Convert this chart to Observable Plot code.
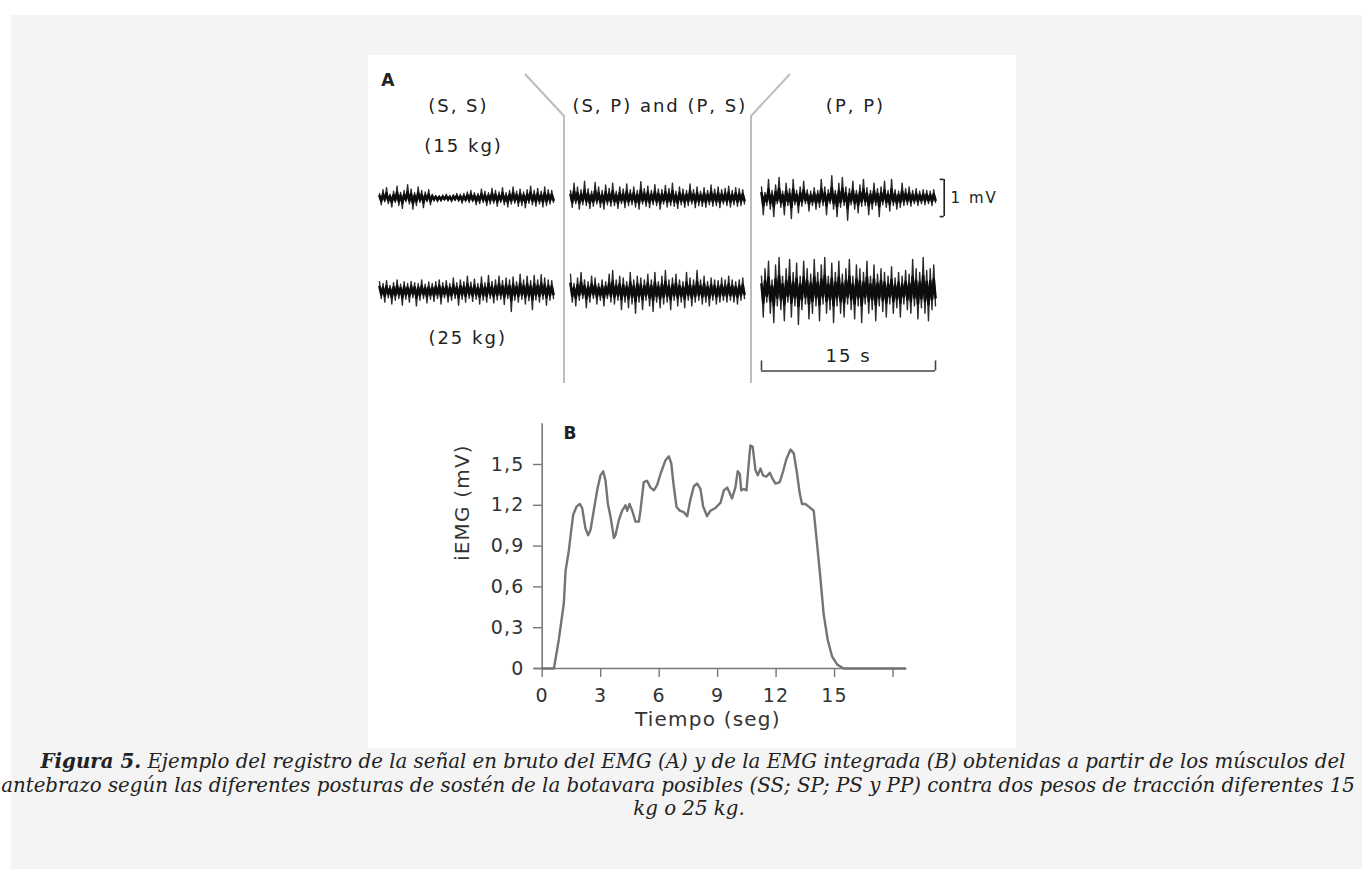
<!DOCTYPE html>
<html><head><meta charset="utf-8">
<script src="https://cdn.jsdelivr.net/npm/d3@7"></script>
<script src="https://cdn.jsdelivr.net/npm/@observablehq/plot@0.6"></script>
<style>
html,body{margin:0;padding:0;background:#fff;overflow:hidden;width:1362px;height:869px;position:relative;}
#bg{position:absolute;left:11px;top:15px;width:1351px;height:854px;background:#f4f4f4;}
#panel{position:absolute;left:368px;top:55px;width:648px;height:693px;background:#fff;}
#a,#b,#overlay{position:absolute;}
#a{left:0;top:0;}
#b{left:72px;top:355px;}
#overlay{left:0;top:0;}
#caption{position:absolute;left:0;top:750px;width:1386px;text-align:center;white-space:nowrap;
  font-family:"DejaVu Serif",serif;font-style:italic;font-size:19.8px;line-height:23.5px;color:#222;}
#caption div{position:relative;}
#cap2{left:-15px;}
#cap3{left:-4px;}
</style></head>
<body>
<div id="bg"></div>
<div id="panel"><svg id="overlay" width="648" height="400"></svg><div id="a"></div><div id="b"></div></div>
<div id="caption"><div><b>Figura 5.</b> Ejemplo del registro de la señal en bruto del EMG (A) y de la EMG integrada (B) obtenidas a partir de los músculos del</div><div id="cap2">antebrazo según las diferentes posturas de sostén de la botavara posibles (SS; SP; PS y PP) contra dos pesos de tracción diferentes 15</div><div id="cap3">kg o 25 kg.</div></div>
<script>
// ---------- Panel A: raw EMG (mV) ----------
const conditions = ["SS", "SPPS", "PP"];
const columnTitles = ["(S, S)", "(S, P) and (P, S)", "(P, P)"];
const weights = ["15 kg", "25 kg"];
const weightLabels = ["(15 kg)", "(25 kg)"];
const traceDuration = 15; // seconds

const emgSS15 = [0.12,-0.18,0.22,-0.1,0.28,-0.15,0.1,-0.24,0.18,-0.12,0.32,-0.2,0.15,-0.28,0.2,-0.1,0.36,-0.16,0.24,-0.3,0.14,-0.2,0.3,-0.12,0.2,-0.26,0.16,-0.1,0.22,-0.18,0.1,-0.08,0.07,-0.1,0.06,-0.09,0.08,-0.06,0.1,-0.08,0.07,-0.1,0.09,-0.07,0.12,-0.09,0.1,-0.14,0.12,-0.1,0.16,-0.12,0.2,-0.1,0.14,-0.18,0.12,-0.15,0.24,-0.12,0.18,-0.2,0.14,-0.16,0.26,-0.14,0.2,-0.22,0.16,-0.12,0.28,-0.18,0.14,-0.24,0.2,-0.16,0.3,-0.14,0.18,-0.22,0.24,-0.2,0.16,-0.26,0.22,-0.14,0.32,-0.18,0.2,-0.22,0.26,-0.16,0.18,-0.24,0.3,-0.2,0.22,-0.16,0.2,-0.12];
const emgSP15 = [0.2,-0.25,0.4,-0.15,0.3,-0.3,0.22,-0.18,0.45,-0.2,0.25,-0.28,0.18,-0.22,0.42,-0.16,0.3,-0.25,0.2,-0.3,0.35,-0.18,0.26,-0.22,0.4,-0.2,0.18,-0.28,0.3,-0.15,0.24,-0.26,0.38,-0.2,0.22,-0.18,0.3,-0.24,0.2,-0.3,0.44,-0.16,0.25,-0.22,0.32,-0.26,0.2,-0.18,0.36,-0.2,0.24,-0.3,0.22,-0.16,0.34,-0.24,0.26,-0.2,0.4,-0.22,0.18,-0.28,0.3,-0.18,0.24,-0.25,0.2,-0.2,0.38,-0.16,0.22,-0.26,0.3,-0.2,0.18,-0.22,0.28,-0.25,0.2,-0.18,0.35,-0.22,0.24,-0.2,0.3,-0.26,0.22,-0.16,0.26,-0.2,0.32,-0.24,0.2,-0.18,0.28,-0.22,0.25,-0.2,0.22,-0.16];
const emgPP15 = [0.3,-0.45,0.15,-0.2,0.5,-0.3,0.2,-0.5,0.35,-0.15,0.55,-0.25,0.18,-0.45,0.4,-0.2,0.25,-0.55,0.5,-0.18,0.2,-0.4,0.3,-0.22,0.45,-0.15,0.22,-0.35,0.18,-0.2,0.28,-0.3,0.2,-0.25,0.5,-0.2,0.3,-0.45,0.22,-0.15,0.6,-0.3,0.2,-0.5,0.4,-0.25,0.55,-0.2,0.3,-0.6,0.25,-0.18,0.45,-0.3,0.2,-0.4,0.35,-0.22,0.5,-0.2,0.28,-0.45,0.2,-0.3,0.4,-0.2,0.25,-0.5,0.3,-0.18,0.45,-0.25,0.2,-0.35,0.5,-0.2,0.22,-0.3,0.18,-0.25,0.4,-0.2,0.25,-0.18,0.3,-0.22,0.2,-0.15,0.25,-0.2,0.18,-0.15,0.22,-0.18,0.2,-0.15,0.18,-0.2,0.22,-0.12];
const emgSS25 = [0.25,-0.2,0.2,-0.3,0.28,-0.18,0.15,-0.35,0.22,-0.25,0.3,-0.2,0.18,-0.38,0.25,-0.22,0.2,-0.3,0.26,-0.18,0.22,-0.4,0.2,-0.25,0.3,-0.2,0.18,-0.32,0.24,-0.22,0.2,-0.28,0.25,-0.2,0.3,-0.35,0.22,-0.18,0.28,-0.3,0.2,-0.25,0.35,-0.2,0.22,-0.38,0.3,-0.22,0.25,-0.3,0.4,-0.2,0.24,-0.28,0.32,-0.22,0.2,-0.35,0.38,-0.25,0.22,-0.3,0.42,-0.2,0.26,-0.32,0.3,-0.24,0.4,-0.22,0.28,-0.36,0.35,-0.2,0.3,-0.55,0.38,-0.25,0.25,-0.3,0.45,-0.22,0.3,-0.35,0.4,-0.26,0.28,-0.5,0.42,-0.24,0.3,-0.3,0.44,-0.22,0.35,-0.38,0.3,-0.25,0.28,-0.2];
const emgSP25 = [0.45,-0.3,0.2,-0.4,0.35,-0.25,0.5,-0.2,0.3,-0.45,0.25,-0.3,0.4,-0.2,0.35,-0.35,0.2,-0.25,0.3,-0.4,0.25,-0.2,0.45,-0.3,0.55,-0.35,0.3,-0.25,0.4,-0.5,0.35,-0.3,0.25,-0.45,0.5,-0.35,0.3,-0.6,0.4,-0.3,0.35,-0.5,0.3,-0.25,0.45,-0.4,0.3,-0.55,0.5,-0.3,0.25,-0.45,0.4,-0.35,0.55,-0.3,0.3,-0.5,0.35,-0.25,0.45,-0.4,0.3,-0.3,0.25,-0.45,0.5,-0.25,0.35,-0.4,0.3,-0.3,0.55,-0.25,0.3,-0.35,0.4,-0.3,0.25,-0.4,0.35,-0.25,0.3,-0.35,0.28,-0.3,0.35,-0.25,0.3,-0.3,0.4,-0.25,0.3,-0.3,0.25,-0.35,0.3,-0.25,0.35,-0.2];
const emgPP25 = [0.4,-0.7,0.6,-0.3,0.8,-0.6,0.3,-0.85,0.7,-0.4,0.9,-0.5,0.4,-0.8,0.6,-0.3,0.85,-0.7,0.5,-0.4,0.75,-0.9,0.4,-0.5,0.8,-0.35,0.6,-0.75,0.45,-0.6,0.85,-0.4,0.5,-0.8,0.7,-0.35,0.9,-0.6,0.4,-0.5,0.75,-0.85,0.5,-0.4,0.8,-0.6,0.45,-0.7,0.6,-0.35,0.85,-0.5,0.4,-0.75,0.7,-0.4,0.6,-0.85,0.5,-0.35,0.8,-0.6,0.4,-0.5,0.7,-0.8,0.45,-0.4,0.6,-0.55,0.5,-0.7,0.4,-0.35,0.65,-0.6,0.35,-0.45,0.5,-0.7,0.4,-0.35,0.55,-0.5,0.45,-0.6,0.85,-0.4,0.6,-0.75,0.5,-0.45,0.9,-0.6,0.55,-0.8,0.6,-0.5,0.7,-0.4];

// ---------- Panel B: integrated EMG ----------
const iemgTime  = [0,0.6,0.85,1.11,1.2,1.37,1.45,1.59,1.76,1.93,2.05,2.22,2.36,2.48,2.62,2.82,2.99,3.13,3.25,3.37,3.5,3.68,3.76,3.93,4.1,4.27,4.36,4.48,4.62,4.79,4.96,5.04,5.21,5.38,5.56,5.73,5.9,6.07,6.32,6.5,6.62,6.75,6.89,7.06,7.26,7.44,7.6,7.78,7.95,8.12,8.26,8.46,8.63,8.89,9.15,9.32,9.49,9.62,9.74,9.91,10.03,10.14,10.21,10.34,10.48,10.6,10.68,10.8,10.94,11.06,11.2,11.33,11.5,11.68,11.8,11.97,12.19,12.36,12.53,12.74,12.91,13.08,13.21,13.33,13.5,13.68,13.93,14.1,14.27,14.44,14.65,14.87,15.13,15.47,18.63];
const iemgValue = [0,0,0.21,0.48,0.72,0.87,0.97,1.13,1.19,1.21,1.18,1.03,0.98,1.02,1.14,1.31,1.42,1.45,1.38,1.21,1.12,0.96,0.98,1.09,1.16,1.2,1.16,1.21,1.16,1.08,1.08,1.16,1.37,1.38,1.33,1.31,1.35,1.43,1.53,1.56,1.51,1.34,1.19,1.16,1.15,1.12,1.24,1.34,1.36,1.32,1.19,1.12,1.16,1.18,1.22,1.31,1.33,1.29,1.25,1.33,1.45,1.43,1.31,1.32,1.31,1.51,1.64,1.63,1.46,1.42,1.47,1.42,1.41,1.44,1.4,1.36,1.37,1.45,1.54,1.61,1.58,1.43,1.29,1.21,1.21,1.19,1.16,0.92,0.67,0.4,0.21,0.09,0.03,0,0];
const xTicks = [0, 3, 6, 9, 12, 15, 18];
const xTickLabels = ["0", "3", "6", "9", "12", "15", ""];
const yTicks = [0, 0.3, 0.6, 0.9, 1.2, 1.5];
const yTickLabels = ["0", "0,3", "0,6", "0,9", "1,2", "1,5"];
const xLabel = "Tiempo (seg)";
const yLabel = "iEMG (mV)";

// ---------- build panel A ----------
const traces = [
  {cond: "SS", weight: "15 kg", v: emgSS15}, {cond: "SPPS", weight: "15 kg", v: emgSP15}, {cond: "PP", weight: "15 kg", v: emgPP15},
  {cond: "SS", weight: "25 kg", v: emgSS25}, {cond: "SPPS", weight: "25 kg", v: emgSP25}, {cond: "PP", weight: "25 kg", v: emgPP25}
];
const emg = traces.flatMap((tr, k) => tr.v.map((v, i) => ({
  id: k, cond: tr.cond, weight: tr.weight, t: i * traceDuration / (tr.v.length - 1), v
})));

const fontA = {fontFamily: "DejaVu Sans", fill: "#222"};
const plotA = Plot.plot({
  width: 648, height: 330,
  marginLeft: 11, marginRight: 81, marginTop: 95.5, marginBottom: 48.5,
  style: {fontFamily: "DejaVu Sans", fontSize: "18px", letterSpacing: "2px", background: "transparent", overflow: "visible"},
  x: {domain: [0, traceDuration], axis: null},
  y: {domain: [-1.25, 1.25], axis: null},
  fx: {domain: conditions, paddingInner: 0.09, paddingOuter: 0, axis: null},
  fy: {domain: weights, paddingInner: 0, paddingOuter: 0, axis: null},
  marks: [
    Plot.line(emg, {x: "t", y: "v", z: "id", fx: "cond", fy: "weight", stroke: "#2a2a2a", strokeWidth: 1.4}),
    Plot.line(emg, {x: "t", y: d => d.v * 0.45, z: "id", fx: "cond", fy: "weight", stroke: "#0d0d0d", strokeWidth: 2.6}),
    Plot.text(["A"], {fx: () => "SS", fy: () => "15 kg", x: () => 0.15, y: () => 3.15, text: d => d,
      textAnchor: "start", fontWeight: "bold", fontSize: 17, ...fontA}),
    Plot.text(columnTitles, {fx: (d, i) => conditions[i], fy: () => weights[0],
      x: (d, i) => [6.8, 7.7, 8.1][i], y: () => 2.47, text: d => d, fontSize: 18, ...fontA}),
    Plot.text(weightLabels, {fx: () => "SS", fy: (d, i) => weights[i],
      x: (d, i) => [7.25, 7.6][i], y: (d, i) => [1.4, -1.27][i], text: d => d, fontSize: 18, ...fontA}),
    // 1 mV calibration bracket
    Plot.ruleX([1], {fx: () => "PP", fy: () => "15 kg", x: () => 15.75, y1: d => -d / 2, y2: d => d / 2, stroke: "#222", strokeWidth: 1.6}),
    Plot.ruleY([-0.5, 0.5], {fx: () => "PP", fy: () => "15 kg", y: d => d, x1: () => 15.4, x2: () => 15.75, stroke: "#222", strokeWidth: 1.6}),
    Plot.text(["1 mV"], {fx: () => "PP", fy: () => "15 kg", x: () => 16.3, y: () => 0, text: d => d,
      textAnchor: "start", fontSize: 15, ...fontA}),
    // 15 s time bar
    Plot.ruleY([traceDuration], {fx: () => "PP", fy: () => "25 kg", y: () => -2.15, x1: () => 0, x2: d => d, stroke: "#444", strokeWidth: 1.6}),
    Plot.ruleX([0, traceDuration], {fx: () => "PP", fy: () => "25 kg", x: d => d, y1: () => -2.15, y2: () => -1.88, stroke: "#444", strokeWidth: 1.6}),
    Plot.text(["15 s"], {fx: () => "PP", fy: () => "25 kg", x: () => traceDuration / 2, y: () => -1.75, text: d => d, fontSize: 18, ...fontA})
  ]
});
document.getElementById("a").appendChild(plotA);

// separators between posture groups (decorative)
const ov = d3.select("#overlay");
ov.append("path").attr("d", "M157,19 L196,61 L196,328").attr("fill", "none").attr("stroke", "#bdbdbd").attr("stroke-width", 2);
ov.append("path").attr("d", "M422,19 L383,61 L383,328").attr("fill", "none").attr("stroke", "#bdbdbd").attr("stroke-width", 2);

// ---------- build panel B ----------
const iemg = iemgTime.map((t, i) => ({t, v: iemgValue[i]}));
const xMax = 18.65, yMax = 1.8;
const plotB = Plot.plot({
  width: 480, height: 335,
  marginLeft: 101.7, marginRight: 14.8, marginTop: 13.2, marginBottom: 77,
  style: {fontFamily: "DejaVu Sans", background: "transparent", overflow: "visible"},
  x: {domain: [0, xMax]},
  y: {domain: [0, yMax]},
  marks: [
    Plot.axisX(xTicks, {tickSize: 9, tickPadding: 11, tickFormat: d => xTickLabels[xTicks.indexOf(d)],
      fontSize: 19, stroke: "#777", fill: "#333", strokeWidth: 1.4, label: null}),
    Plot.axisY(yTicks, {tickSize: 8.7, tickPadding: 9, tickFormat: d => yTickLabels[yTicks.indexOf(d)],
      fontSize: 19, stroke: "#777", fill: "#333", strokeWidth: 1.4, label: null}),
    Plot.ruleY([0], {x1: () => -0.4, x2: () => xMax, stroke: "#777", strokeWidth: 1.6}),
    Plot.ruleX([0], {y1: () => 0, y2: () => yMax, stroke: "#777", strokeWidth: 1.6}),
    Plot.line(iemg, {x: "t", y: "v", stroke: "#747474", strokeWidth: 2.4}),
    Plot.text(["B"], {x: () => 1.45, y: () => 1.73, text: d => d, fontWeight: "bold", fontSize: 17, fill: "#222"}),
    Plot.text([xLabel], {x: () => 8.5, frameAnchor: "bottom", dy: 57, text: d => d, fontSize: 20, fill: "#333"}),
    Plot.text([yLabel], {y: () => 0.79, frameAnchor: "left", dx: -80, rotate: -90, text: d => d, fontSize: 20, fill: "#333"})
  ]
});
document.getElementById("b").appendChild(plotB);
d3.select(plotB).selectAll("text").style("letter-spacing", "1.2px");
</script>
</body></html>
